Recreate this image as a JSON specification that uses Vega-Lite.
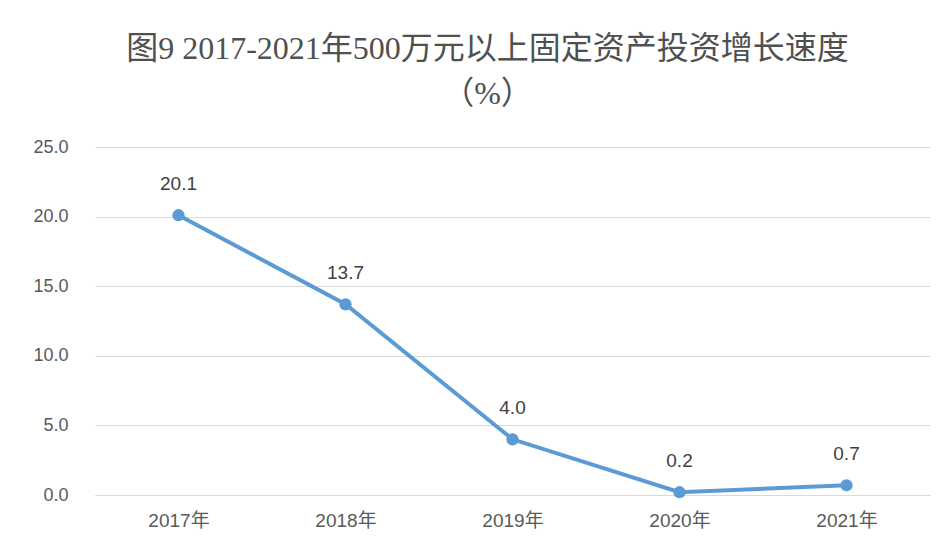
{
  "$schema": "https://vega.github.io/schema/vega-lite/v6.json",
  "width": 835,
  "height": 348,
  "autosize": {"type": "none"},
  "padding": {"left": 95, "top": 147, "right": 20, "bottom": 59},
  "background": "white",
  "title": {
    "text": ["图9 2017-2021年500万元以上固定资产投资增长速度", "（%）"],
    "font": "Liberation Serif, Noto Sans CJK SC",
    "fontSize": 32,
    "fontWeight": "normal",
    "color": "#505050",
    "lineHeight": 45,
    "offset": 27,
    "dx": -25,
    "anchor": "middle"
  },
  "data": {
    "values": [
      {"year": "2017年", "value": 20.1},
      {"year": "2018年", "value": 13.7},
      {"year": "2019年", "value": 4.0},
      {"year": "2020年", "value": 0.2},
      {"year": "2021年", "value": 0.7}
    ]
  },
  "config": {
    "view": {"stroke": null},
    "font": "Liberation Sans"
  },
  "encoding": {
    "x": {
      "field": "year",
      "type": "ordinal",
      "scale": {"type": "point", "padding": 0.5},
      "axis": {
        "title": null,
        "labelAngle": 0,
        "labelFontSize": 19,
        "labelColor": "#595959",
        "labelPadding": 16,
        "labelFont": "Liberation Sans, Noto Sans CJK SC",
        "ticks": false,
        "domainColor": "#d9d9d9",
        "grid": false
      }
    },
    "y": {
      "field": "value",
      "type": "quantitative",
      "scale": {"domain": [0, 25]},
      "axis": {
        "title": null,
        "values": [0, 5, 10, 15, 20, 25],
        "format": ".1f",
        "labelFontSize": 18,
        "labelColor": "#595959",
        "labelPadding": 27,
        "ticks": false,
        "domain": false,
        "gridColor": "#d9d9d9",
        "gridWidth": 1
      }
    }
  },
  "layer": [
    {"mark": {"type": "line", "color": "#5B9BD5", "strokeWidth": 4}},
    {"mark": {"type": "point", "filled": true, "color": "#5B9BD5", "size": 150, "opacity": 1}},
    {
      "mark": {"type": "text", "dy": -31, "fontSize": 19, "color": "#404040", "baseline": "middle"},
      "encoding": {"text": {"field": "value", "type": "quantitative", "format": ".1f"}}
    }
  ]
}
